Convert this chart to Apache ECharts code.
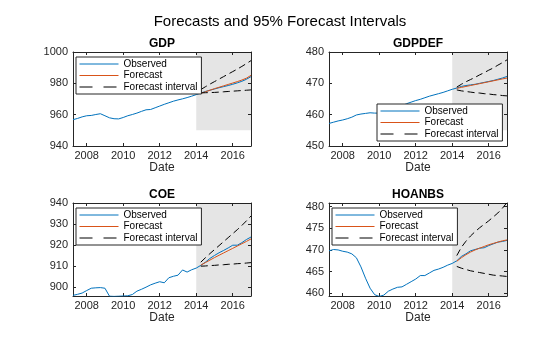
<!DOCTYPE html>
<html><head><meta charset="utf-8">
<script src="https://cdn.jsdelivr.net/npm/echarts@6/dist/echarts.min.js"></script>
<style>html,body{margin:0;padding:0;background:#fff}#c{width:560px;height:337px}</style>
</head><body><div id="c"></div><script>
// ---------- DATA ----------
const mainTitle = 'Forecasts and 95% Forecast Intervals';
const panelNames = ['GDP', 'GDPDEF', 'COE', 'HOANBS'];
const seriesNames = ['Observed', 'Forecast', 'Forecast interval'];
const xAxisLabel = 'Date';
const xTicks = [2008, 2010, 2012, 2014, 2016];

const obsDates = [2007.25, 2007.5, 2007.75, 2008.0, 2008.25, 2008.5, 2008.75, 2009.0, 2009.25, 2009.5,
  2009.75, 2010.0, 2010.25, 2010.5, 2010.75, 2011.0, 2011.25, 2011.5, 2011.75, 2012.0,
  2012.25, 2012.5, 2012.75, 2013.0, 2013.25, 2013.5, 2013.75, 2014.0, 2014.25, 2014.5,
  2014.75, 2015.0, 2015.25, 2015.5, 2015.75, 2016.0, 2016.25, 2016.5, 2016.75, 2017.0];
const fcDates = [2014.25, 2014.5, 2014.75, 2015.0, 2015.25, 2015.5, 2015.75, 2016.0, 2016.25, 2016.5, 2016.75, 2017.0];

const gdpObs = [956.8, 957.6, 958.6, 959.3, 959.5, 960.1, 960.6, 959.3, 958.0, 957.4,
  957.3, 958.2, 959.3, 960.1, 961.0, 962.1, 963.1, 963.3, 964.4, 965.5,
  966.6, 967.6, 968.6, 969.4, 970.1, 970.9, 971.8, 972.8, 973.8, 974.8,
  975.6, 976.4, 977.2, 977.9, 978.6, 979.4, 980.3, 981.3, 982.6, 984.3];
const gdpFc = [973.6, 974.6, 975.6, 976.6, 977.5, 978.4, 979.3, 980.2, 981.1, 982.1, 983.3, 985.1];
const gdpUp = [976.0, 977.8, 979.5, 981.1, 982.7, 984.3, 985.9, 987.5, 989.1, 990.8, 992.6, 994.5];
const gdpLo = [973.9, 974.0, 974.1, 974.2, 974.4, 974.6, 974.8, 975.0, 975.2, 975.4, 975.6, 975.8];

const defObs = [457.2, 457.6, 458.0, 458.3, 458.7, 459.2, 459.9, 460.2, 460.4, 460.6,
  460.5, 460.5, 460.8, 461.2, 461.6, 462.1, 462.8, 463.5, 464.0, 464.5,
  464.9, 465.4, 465.9, 466.3, 466.7, 467.1, 467.6, 468.1, 468.5, 469.0,
  469.3, 469.5, 469.7, 470.0, 470.3, 470.6, 470.9, 471.3, 471.7, 472.2];
const defFc = [468.4, 468.7, 469.0, 469.3, 469.6, 469.9, 470.2, 470.5, 470.8, 471.1, 471.4, 471.7];
const defUp = [468.8, 469.7, 470.5, 471.2, 471.9, 472.7, 473.4, 474.2, 474.9, 475.8, 476.6, 477.5];
const defLo = [467.9, 467.6, 467.4, 467.2, 467.0, 466.9, 466.7, 466.6, 466.4, 466.3, 466.1, 466.0];

const coeObs = [896.0, 896.5, 897.1, 898.3, 899.4, 899.6, 899.7, 899.4, 895.6, 895.5,
  895.6, 895.7, 895.8, 896.4, 898.0, 898.9, 899.9, 901.0, 901.8, 902.5,
  902.0, 904.4, 905.1, 905.6, 908.1, 907.1, 908.2, 909.0, 910.3, 911.8,
  913.6, 915.0, 916.3, 917.4, 918.6, 919.9, 919.9, 921.1, 922.6, 923.8];
const coeFc = [910.4, 911.6, 912.8, 914.0, 915.1, 916.2, 917.3, 918.4, 919.5, 920.6, 921.7, 922.9];
const coeUp = [911.8, 913.9, 915.9, 917.8, 919.7, 921.6, 923.5, 925.4, 927.3, 929.3, 931.5, 933.8];
const coeLo = [909.9, 910.0, 910.2, 910.3, 910.5, 910.6, 910.8, 910.9, 911.1, 911.2, 911.4, 911.6];

const hoaObs = [469.8, 470.1, 470.0, 469.7, 469.5, 469.1, 468.2, 466.1, 463.5, 461.2,
  459.7, 459.3, 459.6, 460.5, 461.0, 461.4, 461.5, 462.1, 462.7, 463.3,
  464.1, 464.1, 464.7, 465.3, 465.6, 466.0, 466.5, 466.9, 467.5, 468.5,
  469.1, 469.8, 470.1, 470.4, 470.5, 471.0, 471.4, 471.8, 471.95, 472.2];
const hoaFc = [467.4, 468.2, 468.9, 469.5, 470.0, 470.4, 470.8, 471.2, 471.5, 471.8, 472.1, 472.3];
const hoaUp = [468.7, 470.6, 472.0, 473.2, 474.2, 475.1, 475.9, 476.7, 477.6, 478.5, 479.6, 480.9];
const hoaLo = [466.2, 465.8, 465.5, 465.2, 465.0, 464.8, 464.6, 464.4, 464.2, 464.1, 464.0, 463.9];

const yRanges = [[940, 1000], [450, 480], [895.7, 940], [459.4, 480.8]];
const yTicks = [[940, 960, 980, 1000], [450, 460, 470, 480], [900, 910, 920, 930, 940], [460, 465, 470, 475, 480]];
const xRange = [2007.25, 2017.0];
const shadeStart = 2014.0;
const shadeY = [[950, 1000], [455, 480], [895.7, 940], [459.4, 480.8]];

const obsAll = [gdpObs, defObs, coeObs, hoaObs];
const fcAll = [gdpFc, defFc, coeFc, hoaFc];
const upAll = [gdpUp, defUp, coeUp, hoaUp];
const loAll = [gdpLo, defLo, coeLo, hoaLo];

// ---------- LAYOUT / STYLE ----------
const FONT = '"Liberation Sans", Arial, Helvetica, sans-serif';
const AX = '#262626';
const grids = [
  {left: 73, top: 52, width: 178, height: 94},
  {left: 329, top: 52, width: 178, height: 94},
  {left: 73, top: 203, width: 178, height: 93},
  {left: 329, top: 203, width: 178, height: 93}
];
const legendPos = [
  {left: 76, top: 57}, {left: 377, top: 104}, {left: 76, top: 208}, {left: 332, top: 208}
];
const pair = (xs, ys) => xs.map((x, k) => [x, ys[k]]);

const option = {
  animation: false,
  backgroundColor: '#fff',
  textStyle: {fontFamily: FONT},
  title: [{text: mainTitle, left: 280, top: 14.5, padding: 0, textAlign: 'center',
    textStyle: {fontFamily: FONT, fontSize: 15, fontWeight: 'normal', color: '#000'}}],
  grid: grids.map(g => Object.assign({containLabel: false}, g)),
  xAxis: [], yAxis: [], series: [], legend: []
};

panelNames.forEach((name, i) => {
  const g = grids[i];
  option.title.push({text: name, left: g.left + g.width / 2, top: g.top - 14, padding: 0, textAlign: 'center',
    textStyle: {fontFamily: FONT, fontSize: 12, fontWeight: 'bold', color: '#000'}});
  const tickCfg = {show: true, inside: true, length: 3, lineStyle: {color: AX, width: 1}, customValues: xTicks};
  option.xAxis.push({
    gridIndex: i, type: 'value', position: 'bottom', min: xRange[0], max: xRange[1],
    axisLine: {show: true, onZero: false, lineStyle: {color: AX, width: 1}},
    axisTick: tickCfg,
    axisLabel: {show: true, customValues: xTicks, formatter: v => String(v), margin: 4,
      color: AX, fontSize: 11, fontFamily: FONT},
    splitLine: {show: false},
    name: xAxisLabel, nameLocation: 'middle', nameGap: 15,
    nameTextStyle: {color: AX, fontSize: 12, fontFamily: FONT}
  });
  option.xAxis.push({
    gridIndex: i, type: 'value', position: 'top', min: xRange[0], max: xRange[1],
    axisLine: {show: true, onZero: false, lineStyle: {color: AX, width: 1}},
    axisTick: tickCfg, axisLabel: {show: false}, splitLine: {show: false}
  });
  const yTickCfg = {show: true, inside: true, length: 3, lineStyle: {color: AX, width: 1}, customValues: yTicks[i]};
  option.yAxis.push({
    gridIndex: i, type: 'value', position: 'left', min: yRanges[i][0], max: yRanges[i][1],
    axisLine: {show: true, onZero: false, lineStyle: {color: AX, width: 1}},
    axisTick: yTickCfg,
    axisLabel: {show: true, customValues: yTicks[i], formatter: v => String(v), margin: 5,
      color: AX, fontSize: 11, fontFamily: FONT},
    splitLine: {show: false}
  });
  option.yAxis.push({
    gridIndex: i, type: 'value', position: 'right', min: yRanges[i][0], max: yRanges[i][1],
    axisLine: {show: true, onZero: false, lineStyle: {color: AX, width: 1}},
    axisTick: yTickCfg, axisLabel: {show: false}, splitLine: {show: false}
  });
  const xi = 2 * i, yi = 2 * i;
  option.series.push({
    name: 'shade' + i, type: 'line', xAxisIndex: xi, yAxisIndex: yi, data: [], z: 1, silent: true,
    markArea: {silent: true, itemStyle: {color: 'rgba(0,0,0,0.1)'},
      data: [[{xAxis: shadeStart, yAxis: shadeY[i][0]}, {xAxis: xRange[1], yAxis: shadeY[i][1]}]]}
  });
  const common = {type: 'line', xAxisIndex: xi, yAxisIndex: yi, symbol: 'none', showSymbol: false, z: 3, clip: true};
  option.series.push(Object.assign({}, common, {name: seriesNames[0], data: pair(obsDates, obsAll[i]),
    lineStyle: {color: '#0072BD', width: 1}, itemStyle: {color: '#0072BD'}}));
  option.series.push(Object.assign({}, common, {name: seriesNames[1], data: pair(fcDates, fcAll[i]),
    lineStyle: {color: '#D95319', width: 1}, itemStyle: {color: '#D95319'}}));
  option.series.push(Object.assign({}, common, {name: seriesNames[2], data: pair(fcDates, upAll[i]),
    lineStyle: {color: '#000', width: 1, type: [7, 4]}, itemStyle: {color: '#000'}}));
  option.series.push(Object.assign({}, common, {name: seriesNames[2], data: pair(fcDates, loAll[i]),
    lineStyle: {color: '#000', width: 1, type: [7, 4]}, itemStyle: {color: '#000'}}));
  option.legend.push({
    data: [
      {name: seriesNames[0]},
      {name: seriesNames[1]},
      {name: seriesNames[2], lineStyle: {type: [13, 11], width: 1}}
    ],
    orient: 'vertical', left: legendPos[i].left, top: legendPos[i].top,
    selectedMode: false, backgroundColor: '#fff', borderColor: AX, borderWidth: 1,
    padding: [2, 4, 2, 3], itemWidth: 39, itemHeight: 10, itemGap: 1.5, z: 10,
    itemStyle: {opacity: 0, borderWidth: 0},
    lineStyle: {width: 1},
    textStyle: {fontFamily: FONT, fontSize: 10, color: '#000', lineHeight: 10, padding: [0, 0, 0, 0]}
  });
});

const chart = echarts.init(document.getElementById('c'), null, {renderer: 'canvas'});
chart.setOption(option);
</script></body></html>
